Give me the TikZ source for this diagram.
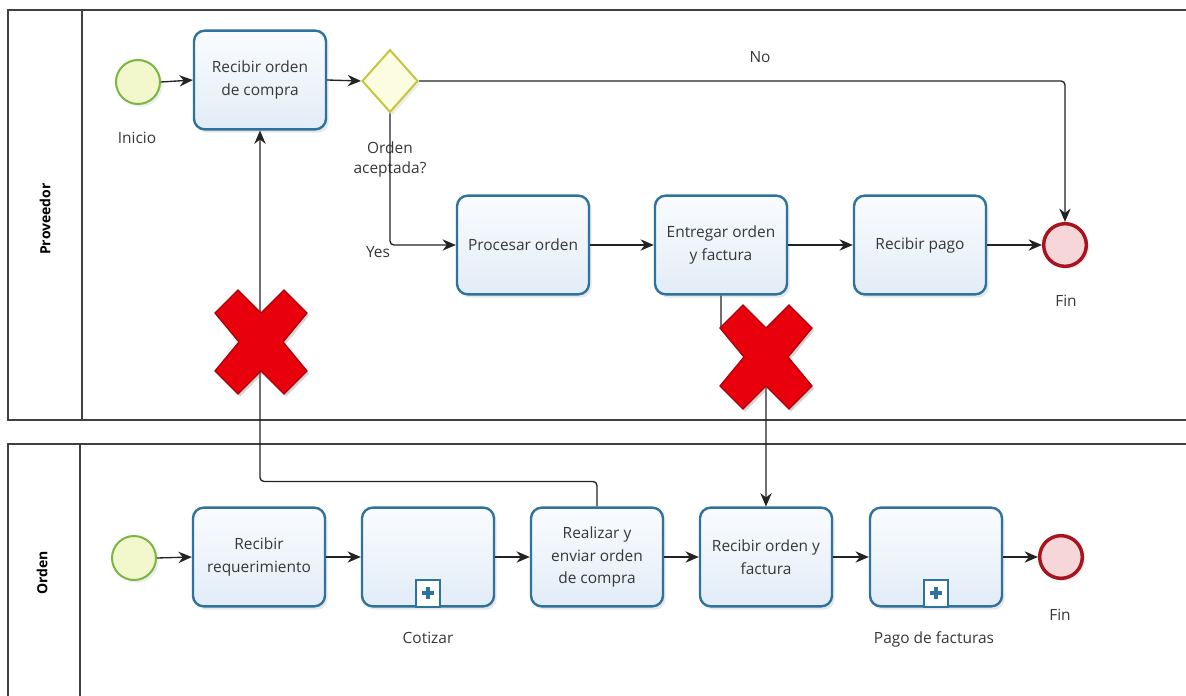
\documentclass[tikz,border=0pt]{standalone}
\usepackage{fontspec}
\setmainfont{Open Sans}
\usetikzlibrary{shapes.geometric,arrows.meta,shadows,calc}

\definecolor{taskline}{RGB}{46,114,158}
\definecolor{taskfillA}{RGB}{250,252,254}
\definecolor{taskfillB}{RGB}{226,236,247}
\definecolor{startline}{RGB}{122,182,66}
\definecolor{startfill}{RGB}{242,248,204}
\definecolor{endline}{RGB}{168,20,30}
\definecolor{endfill}{RGB}{247,214,218}
\definecolor{gwline}{RGB}{198,198,62}
\definecolor{gwfill}{RGB}{252,252,224}
\definecolor{flowline}{RGB}{35,35,35}
\definecolor{labeltext}{RGB}{55,55,55}
\definecolor{xred}{RGB}{232,0,12}
\definecolor{xredd}{RGB}{176,0,10}

\begin{document}
\begin{tikzpicture}[x=0.75pt,y=-0.75pt,
  lane/.style={draw=black!75, line width=1pt},
  lanetitle/.style={rotate=90, font=\bfseries\fontsize{10.5}{12}\selectfont, text=black},
  task/.style={draw=taskline, line width=1.8pt, rounded corners=8pt,
    top color=taskfillA, bottom color=taskfillB,
    minimum width=99pt, minimum height=74pt, align=center, text=labeltext,
    font=\fontsize{11.6}{17}\selectfont,
    drop shadow={opacity=0.18, shadow xshift=2pt, shadow yshift=-2.5pt}},
  startev/.style={circle, draw=startline, line width=1.5pt, fill=startfill,
    minimum size=33pt, inner sep=0pt,
    drop shadow={opacity=0.15, shadow xshift=2pt, shadow yshift=-2pt}},
  endev/.style={circle, draw=endline, line width=2.6pt, fill=endfill,
    minimum size=32pt, inner sep=0pt,
    drop shadow={opacity=0.15, shadow xshift=2pt, shadow yshift=-2pt}},
  gateway/.style={diamond, draw=gwline, line width=1.5pt, fill=gwfill,
    minimum width=42pt, minimum height=47pt, inner sep=0pt,
    drop shadow={opacity=0.15, shadow xshift=2pt, shadow yshift=-2pt}},
  lbl/.style={text=labeltext, font=\fontsize{11.6}{15}\selectfont, align=center},
  flow/.style={draw=flowline, line width=1pt, rounded corners=3pt,
    -{Stealth[length=10pt,width=8.5pt]}},
  submark/.style={draw=taskline, line width=1.5pt, fill=white,
    minimum width=18pt, minimum height=20pt, inner sep=0pt, anchor=south},
  redx/.pic={
    \path[fill=xred, draw=xredd, line width=1pt,
      drop shadow={opacity=0.35, shadow xshift=1.5pt, shadow yshift=-2pt}]
      (-46,-29) -- (-23,-52) -- (0,-29) -- (23,-52) -- (46,-29) -- (22,0)
      -- (46,29) -- (23,52) -- (0,29) -- (-23,52) -- (-46,29) -- (-22,0) -- cycle;
  }
]
\useasboundingbox (0,0) rectangle (1186,696);

% pools and lanes
\draw[lane] (1190,10) -- (8,10) -- (8,420) -- (1190,420);
\draw[lane] (82,10) -- (82,420);
\draw[lane] (1190,444) -- (8,444) -- (8,700);
\draw[lane] (80,444) -- (80,700);
\node[lanetitle] (lprov) at (45,219) {Proveedor};
\node[lanetitle] (lord) at (42,573) {Orden};

% Proveedor lane
\node[startev] (s1) at (138,82) {};
\node[task] (roc) at (260,80) {Recibir orden\\de compra};
\node[gateway] (gw) at (390,81) {};
\node[task] (proc) at (523,245) {Procesar orden};
\node[task] (ent) at (721,245) {Entregar orden\\y factura};
\node[task] (pago) at (920,245) {Recibir pago};
\node[endev] (fin1) at (1065,245) {};

\node[lbl] (linicio) at (137,138) {Inicio};
\node[lbl] (lgw) at (390,159) {Orden\\aceptada?};
\node[lbl] (lno) at (760,57) {No};
\node[lbl] (lyes) at (378,252) {Yes};
\node[lbl] (lfin1) at (1066,301) {Fin};

% Orden lane
\node[startev] (s2) at (134,558) {};
\node[task] (rr) at (259,557) {Recibir\\requerimiento};
\node[task] (cot) at (428,557) {};
\node[submark] (cotm) at (cot.south) {};
\node[task] (rea) at (597,557) {Realizar y\\enviar orden\\de compra};
\node[task] (rof) at (766,557) {Recibir orden y\\factura};
\node[task] (pag) at (936,557) {};
\node[submark] (pagm) at (pag.south) {};
\node[endev] (fin2) at (1061,557) {};

\draw[taskline, line width=3pt] ($(cotm.center)+(-6,0)$) -- ($(cotm.center)+(6,0)$);
\draw[taskline, line width=3pt] ($(cotm.center)+(0,-6)$) -- ($(cotm.center)+(0,6)$);
\draw[taskline, line width=3pt] ($(pagm.center)+(-6,0)$) -- ($(pagm.center)+(6,0)$);
\draw[taskline, line width=3pt] ($(pagm.center)+(0,-6)$) -- ($(pagm.center)+(0,6)$);

\node[lbl] (lcot) at (428,638) {Cotizar};
\node[lbl] (lpag) at (934,639) {Pago de facturas};
\node[lbl] (lfin2) at (1060,615) {Fin};

% sequence flows
\draw[flow] (s1.east) -- (roc.west);
\draw[flow] (roc.east) -- (gw.west);
\draw[flow] (gw.east) -| (fin1.north);
\draw[flow] (gw.south) |- (proc.west);
\draw[flow] (proc.east) -- (ent.west);
\draw[flow] (ent.east) -- (pago.west);
\draw[flow] (pago.east) -- (fin1.west);

\draw[flow] (s2.east) -- (rr.west);
\draw[flow] (rr.east) -- (cot.west);
\draw[flow] (cot.east) -- (rea.west);
\draw[flow] (rea.east) -- (rof.west);
\draw[flow] (rof.east) -- (pag.west);
\draw[flow] (pag.east) -- (fin2.west);

% message flows between the lanes
\draw[flow] (ent.south) -- ++(0,35) -| (rof.north);
\draw[flow] (rea.north) -- ++(0,-25) -| (roc.south);

% crossed-out links
\pic at (261,342) {redx};
\pic at (766,357) {redx};
\end{tikzpicture}
\end{document}
